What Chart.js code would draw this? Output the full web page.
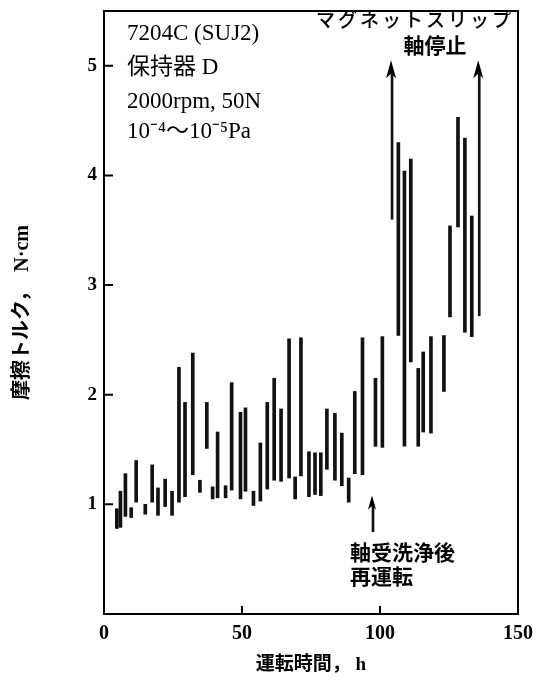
<!DOCTYPE html>
<html>
<head>
<meta charset="utf-8">
<script src="https://cdn.jsdelivr.net/npm/chart.js@4.4.1/dist/chart.umd.min.js"></script>
<style>
  html, body { margin: 0; padding: 0; background: #fff; }
  canvas { display: block; }
</style>
</head>
<body>
<canvas id="torqueChart" width="536" height="682"></canvas>
<script>
// operating time (h) of each torque reading, with the min / max friction torque (N·cm)
const hours = [5.2, 6.5, 8.3, 10.4, 12.2, 15.5, 18.0, 20.1, 22.7, 25.2,
    27.7, 29.9, 32.7, 35.3, 37.8, 39.9, 41.7, 44.6, 46.8, 50.0,
    51.8, 54.7, 57.2, 59.7, 62.2, 64.7, 67.6, 69.8, 71.9, 74.8,
    77.0, 79.1, 81.3, 84.2, 86.7, 89.2, 91.4, 94.2, 98.9, 101.4,
    107.2, 109.4, 111.7, 114.4, 116.2, 119.0, 123.7, 125.9, 128.8, 131.3, 133.8];
const torqueLow = [0.78, 0.79, 0.89, 0.88, 1.02, 0.91, 1.02, 0.90, 0.98, 0.90,
    1.02, 1.07, 1.27, 1.11, 1.51, 1.05, 1.06, 1.06, 1.13, 1.05,
    1.12, 0.99, 1.03, 1.14, 1.22, 1.21, 1.24, 1.05, 1.26, 1.07,
    1.09, 1.08, 1.32, 1.22, 1.17, 1.02, 1.28, 1.27, 1.53, 1.52,
    2.54, 1.53, 2.30, 1.53, 1.66, 1.65, 2.03, 2.71, 3.53, 2.57, 2.53];
const torqueHigh = [0.96, 1.12, 1.28, 0.97, 1.40, 1.00, 1.36, 1.15, 1.23, 1.12,
    2.25, 1.93, 2.38, 1.22, 1.93, 1.16, 1.66, 1.17, 2.11, 1.84,
    1.88, 1.12, 1.56, 1.93, 2.15, 1.87, 2.51, 1.25, 2.52, 1.48,
    1.47, 1.47, 1.87, 1.83, 1.65, 1.24, 2.03, 2.52, 2.15, 2.53,
    4.30, 4.04, 4.15, 2.24, 2.39, 2.53, 2.54, 3.54, 4.53, 4.34, 3.63];

// magnet slip arrows (torque went off scale) and the restart marker
const slipHours = [104.0, 135.6];
const slipFrom = [3.60, 2.72];
const slipTo = [5.05, 5.05];
const restartHours = [97.1];
const restartFrom = [0.75];
const restartTo = [1.08];

const xTicks = [0, 50, 100, 150];
const yTicks = [1, 2, 3, 4, 5];

const conditionLines = ["7204C (SUJ2)", "保持器 D", "2000rpm, 50N", "10⁻⁴～10⁻⁵Pa"];
const slipNote = ["マグネットスリップ", "軸停止"];
const restartNote = ["軸受洗浄後", "再運転"];

const FAMILY = '"Liberation Serif", "Noto Sans CJK JP", serif';

function drawArrowHead(ctx, px, py, w, h) {
    ctx.beginPath();
    ctx.moveTo(px, py);
    ctx.lineTo(px - w / 2, py + h);
    ctx.lineTo(px, py + h * 0.75);
    ctx.lineTo(px + w / 2, py + h);
    ctx.closePath();
    ctx.fill();
}

const framePlugin = {
    id: "framePlugin",
    afterDatasetsDraw(chart) {
        const { ctx, chartArea: a, scales: { x, y } } = chart;
        ctx.save();
        ctx.strokeStyle = "#000";
        ctx.fillStyle = "#000";
        ctx.lineWidth = 2;
        ctx.strokeRect(a.left, a.top, a.right - a.left, a.bottom - a.top);

        // inward tick marks
        ctx.beginPath();
        yTicks.forEach(v => {
            const py = y.getPixelForValue(v);
            ctx.moveTo(a.left, py);
            ctx.lineTo(a.left + 9, py);
        });
        xTicks.forEach(v => {
            if (v === 0 || v === 150) return;
            const px = x.getPixelForValue(v);
            ctx.moveTo(px, a.bottom);
            ctx.lineTo(px, a.bottom - 8);
        });
        ctx.stroke();

        // arrow heads
        slipHours.forEach((h, i) => {
            drawArrowHead(ctx, x.getPixelForValue(h), y.getPixelForValue(slipTo[i]), 10, 18);
        });
        restartHours.forEach((h, i) => {
            drawArrowHead(ctx, x.getPixelForValue(h), y.getPixelForValue(restartTo[i]), 8, 14);
        });

        // notes
        ctx.textBaseline = "middle";
        ctx.textAlign = "left";
        ctx.font = "23px " + FAMILY;
        const lineY = [23, 57, 91, 121];
        conditionLines.forEach((t, i) => ctx.fillText(t, a.left + 23, a.top + lineY[i]));

        ctx.textAlign = "center";
        ctx.font = "500 19px " + FAMILY;
        ctx.letterSpacing = "3px";
        ctx.fillText(slipNote[0], 415, 22);
        ctx.letterSpacing = "0px";
        ctx.font = "bold 21px " + FAMILY;
        ctx.fillText(slipNote[1], 435, 48);

        ctx.textAlign = "left";
        ctx.fillText(restartNote[0], 350, 555);
        ctx.fillText(restartNote[1], 350, 579);
        ctx.restore();
    }
};

new Chart(document.getElementById("torqueChart"), {
    type: "bar",
    data: {
        datasets: [
            {
                data: hours.map((h, i) => ({ x: h, y: [torqueLow[i], torqueHigh[i]] })),
                backgroundColor: "#111",
                borderWidth: 0,
                barThickness: 3
            },
            {
                data: slipHours.map((h, i) => ({ x: h, y: [slipFrom[i], slipTo[i] - 0.1] }))
                    .concat(restartHours.map((h, i) => ({ x: h, y: [restartFrom[i], restartTo[i] - 0.08] }))),
                backgroundColor: "#111",
                borderWidth: 0,
                barThickness: 2
            }
        ]
    },
    options: {
        responsive: false,
        devicePixelRatio: 1,
        animation: false,
        layout: { padding: { top: 11, right: 18, left: 0, bottom: 0 } },
        plugins: { legend: { display: false }, tooltip: { enabled: false } },
        scales: {
            x: {
                type: "linear",
                min: 0,
                max: 150,
                offset: false,
                grid: { display: false, drawTicks: false },
                border: { display: false },
                ticks: { stepSize: 50, padding: 8, color: "#000", font: { family: FAMILY, size: 20, weight: "bold" } },
                title: {
                    display: true,
                    text: "運転時間， h",
                    color: "#000",
                    padding: { bottom: 6 },
                    font: { family: FAMILY, size: 19, weight: "bold" }
                },
                afterFit: s => { s.height = 68; s.paddingLeft = 0; s.paddingRight = 0; }
            },
            y: {
                min: 0,
                max: 5.5,
                grid: { display: false, drawTicks: false },
                border: { display: false },
                ticks: {
                    stepSize: 1,
                    includeBounds: false,
                    padding: 7,
                    color: "#000",
                    font: { family: FAMILY, size: 19, weight: "bold" },
                    callback: v => (yTicks.includes(v) ? v : "")
                },
                title: {
                    display: true,
                    text: "摩擦トルク，  N·cm",
                    color: "#000",
                    padding: { top: 11 },
                    font: { family: FAMILY, size: 20, weight: "bold" }
                },
                afterFit: s => { s.width = 104; s.paddingTop = 0; s.paddingBottom = 0; }
            }
        }
    },
    plugins: [framePlugin]
});
</script>
</body>
</html>
